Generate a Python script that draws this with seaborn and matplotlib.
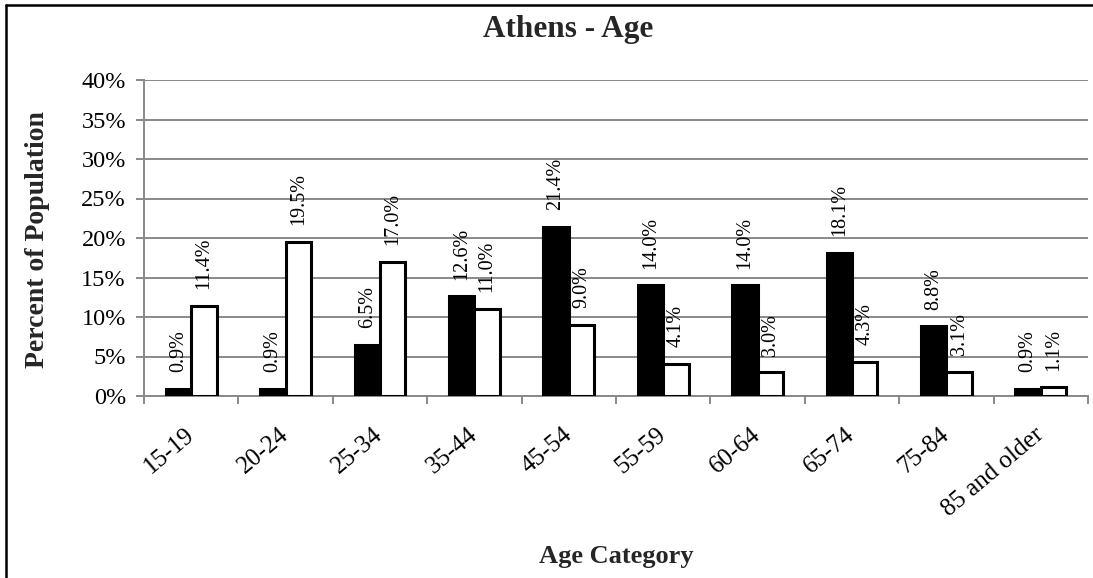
import matplotlib
matplotlib.use("Agg")
import matplotlib.pyplot as plt
from matplotlib.lines import Line2D
from matplotlib.ticker import FixedLocator, FuncFormatter
from matplotlib.transforms import ScaledTranslation
import seaborn as sns
import pandas as pd

# Age groups and the share of each group (percent) for the two series
age_groups = ["15-19", "20-24", "25-34", "35-44", "45-54",
              "55-59", "60-64", "65-74", "75-84", "85 and older"]
series_names = ["Series 1", "Series 2"]
series_1 = [0.9, 0.9, 6.5, 12.6, 21.4, 14.0, 14.0, 18.1, 8.8, 0.9]
series_2 = [11.4, 19.5, 17.0, 11.0, 9.0, 4.1, 3.0, 4.3, 3.1, 1.1]
y_ticks = [0, 5, 10, 15, 20, 25, 30, 35, 40]

df = pd.DataFrame({
    "age": age_groups * 2,
    "pct": series_1 + series_2,
    "series": [series_names[0]] * len(age_groups) + [series_names[1]] * len(age_groups),
})

sns.set_theme(style="white")
plt.rcParams["font.family"] = ["Liberation Serif", "DejaVu Serif"]

W, H = 1093, 578
fig = plt.figure(figsize=(W / 100, H / 100), dpi=100)
ax = fig.add_axes([144 / W, 1 - 396 / H, (1088 - 144) / W, (396 - 80) / H])

grid_c = "#898989"
sns.barplot(data=df, x="age", y="pct", hue="series", order=age_groups,
            hue_order=series_names,
            palette={series_names[0]: "black", series_names[1]: "white"},
            width=0.54, gap=0, edgecolor="black", linewidth=2.2,
            legend=False, ax=ax, zorder=3)

# Rotated value labels above every bar
for cont, vals in zip(ax.containers, [series_1, series_2]):
    ax.bar_label(cont, labels=[f"{v:.1f}%" for v in vals], rotation=90,
                 padding=12, fontsize=14.5, color="black")

ax.set_ylim(0, 40)
ax.set_xlim(-0.5, len(age_groups) - 0.5)
ax.yaxis.set_major_locator(FixedLocator(y_ticks))
ax.yaxis.set_major_formatter(FuncFormatter(lambda v, p: f"{v:.0f}%"))
ax.grid(axis="y", color=grid_c, linewidth=1.4, zorder=0)
ax.set_axisbelow(True)

for s in ["top", "right"]:
    ax.spines[s].set_visible(False)
for s in ["left", "bottom"]:
    ax.spines[s].set_color(grid_c)
    ax.spines[s].set_linewidth(1.4)

ax.tick_params(axis="y", which="major", left=True, length=6, width=1.4,
               color=grid_c, labelsize=17.5, pad=7, labelcolor="black")
ax.set_xticks(range(len(age_groups)))
ax.set_xticklabels(age_groups, rotation=40, ha="right",
                   rotation_mode="anchor", fontsize=18)
ax.set_xticks([i - 0.5 for i in range(len(age_groups) + 1)], minor=True)
ax.tick_params(axis="x", which="major", length=0, pad=20, labelcolor="black")
ax.tick_params(axis="x", which="minor", bottom=True, length=6, width=1.4,
               color=grid_c)
shift = ScaledTranslation(-7 / 100, 0, fig.dpi_scale_trans)
for lbl in ax.get_xticklabels():
    lbl.set_transform(lbl.get_transform() + shift)
ax.set_xlabel("")
ax.set_ylabel("")

fig.text(568 / W, 1 - 30 / H, "Athens - Age", ha="center", va="center",
         fontsize=22.5, fontweight="bold")
fig.text(616 / W, 1 - 556 / H, "Age Category", ha="center", va="center",
         fontsize=19, fontweight="bold")
fig.text(38 / W, 1 - 240 / H, "Percent of Population", ha="center",
         va="center", rotation=90, fontsize=20, fontweight="bold")

# Chart frame
fig.add_artist(Line2D([6 / W, 6 / W], [0, 1 - 5 / H], transform=fig.transFigure,
                      color="black", linewidth=1.8))
fig.add_artist(Line2D([6 / W, 1], [1 - 5 / H, 1 - 5 / H], transform=fig.transFigure,
                      color="black", linewidth=1.8))

fig.savefig("out.png", dpi=100)
